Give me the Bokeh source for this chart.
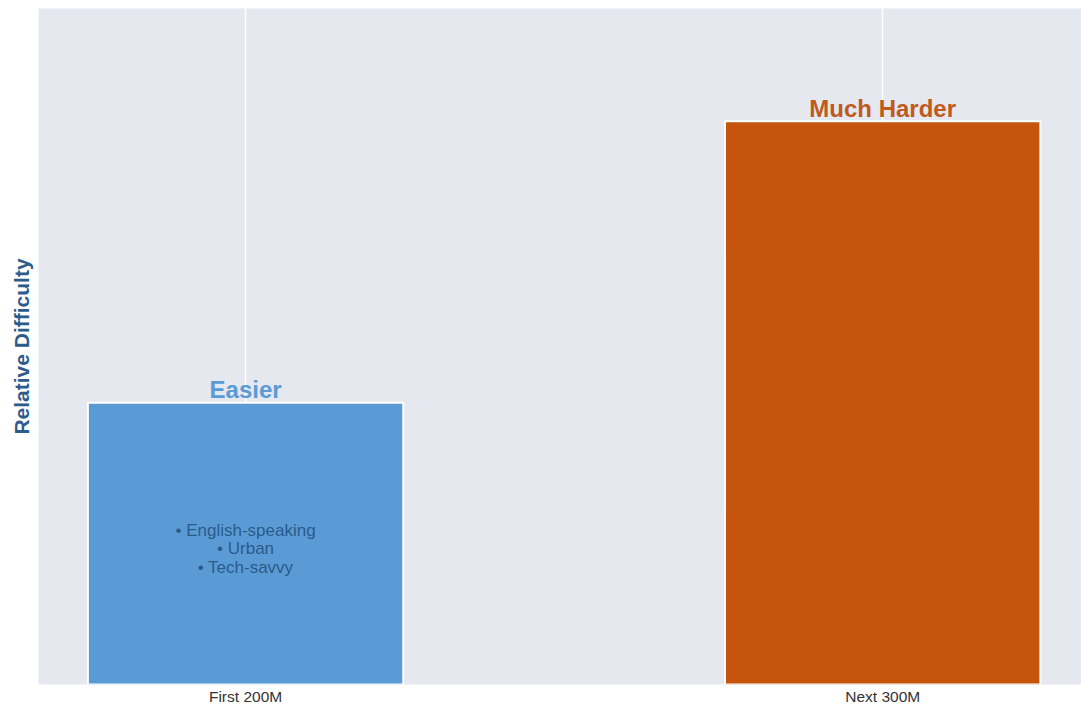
from bokeh.plotting import figure
from bokeh.models import ColumnDataSource, Range1d, FixedTicker
from bokeh.core.properties import value
from bokeh.embed import file_html
from bokeh.resources import INLINE

categories = ["First 200M", "Next 300M"]
difficulty = [1.0, 2.0]
bar_labels = ["Easier", "Much Harder"]
bar_colors = ["#5b9bd5", "#c5550d"]
label_colors = ["#5b9bd5", "#c05a1c"]
bullet_text = "• English-speaking\n• Urban\n• Tech-savvy"

xs = list(range(len(categories)))
src = ColumnDataSource(dict(x=xs, top=difficulty, color=bar_colors,
                            label=bar_labels, lcolor=label_colors))

p = figure(width=1081, height=707, output_backend="svg", toolbar_location=None,
           x_range=Range1d(-0.325, 1.312), y_range=Range1d(0, 2.4),
           min_border_left=38, min_border_right=0, min_border_top=8,
           min_border_bottom=0)
p.background_fill_color = "#e5e8ef"
p.border_fill_color = "white"
p.outline_line_color = None

p.vbar(x="x", top="top", width=0.495, bottom=0, fill_color="color",
       line_color="white", line_width=2, source=src)

p.text(x="x", y="top", text="label", text_color="lcolor", source=src,
       text_align="center", text_baseline="alphabetic", y_offset=-13,
       text_font=value("Liberation Sans"), text_font_size="24px",
       text_font_style="bold")

p.text(x=[xs[0]], y=[difficulty[0] / 2], text=[bullet_text],
       text_align="center", text_baseline="middle", text_color="#1f4e79",
       text_alpha=0.85, text_font=value("Liberation Sans"),
       text_font_size="17px", text_line_height=0.97, y_offset=5)

p.xaxis.ticker = FixedTicker(ticks=xs)
p.xaxis.major_label_overrides = {i: c for i, c in enumerate(categories)}
p.xaxis.axis_line_color = None
p.xaxis.major_tick_line_color = None
p.xaxis.minor_tick_line_color = None
p.xaxis.major_tick_out = 0
p.xaxis.major_label_standoff = 3
p.xaxis.major_label_text_font = "Liberation Sans"
p.xaxis.major_label_text_font_size = "15.5px"
p.xaxis.major_label_text_color = "#333333"

p.yaxis.ticker = FixedTicker(ticks=[])
p.yaxis.axis_line_color = None
p.yaxis.major_tick_line_color = None
p.yaxis.minor_tick_line_color = None
p.yaxis.major_tick_out = 0
p.yaxis.major_label_standoff = 0
p.yaxis.axis_label = "Relative Difficulty"
p.yaxis.axis_label_standoff = 6
p.yaxis.axis_label_text_font = "Liberation Sans"
p.yaxis.axis_label_text_font_size = "21px"
p.yaxis.axis_label_text_font_style = "bold"
p.yaxis.axis_label_text_color = "#2c5b8c"

p.xgrid.grid_line_color = "white"
p.xgrid.grid_line_width = 1.5
p.ygrid.grid_line_color = None

open("out.html", "w").write(file_html(p, INLINE))
